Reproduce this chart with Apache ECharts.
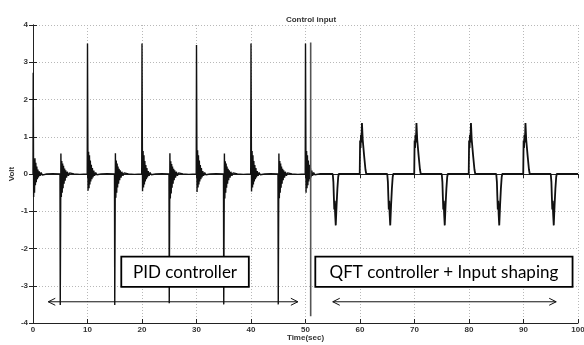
<!DOCTYPE html>
<html>
<head>
<meta charset="utf-8">
<script src="https://cdn.jsdelivr.net/npm/echarts@6/dist/echarts.min.js"></script>
<style>
html,body{margin:0;padding:0;background:#fff;}
#chart{width:584px;height:345px;}
</style>
</head>
<body>
<div id="chart"></div>
<script>
// Chart values
var chartTitle = 'Control input';
var xTicks = [0, 10, 20, 30, 40, 50, 60, 70, 80, 90, 100];
var yTicks = [-4, -3, -2, -1, 0, 1, 2, 3, 4];

// PID controller segment: [time (s), volt]
var pidSignal = [
  [0,0],[0.04,2.72],[0.12,-0.62],[0.2,0.38],[0.28,-0.5],[0.36,0.42],[0.44,-0.3],[0.52,0.3],[0.6,-0.22],[0.7,0.2],[0.8,-0.14],[0.9,0.12],[1.0,-0.09],[1.15,0.07],[1.3,-0.05],[1.5,0.04],[1.7,-0.03],[2.0,0.01],[2.5,0],[3.6,0.01],[4.95,0],
  [5.0,-3.52],[5.12,0.55],[5.2,-0.62],[5.28,0.35],[5.36,-0.5],[5.44,0.28],[5.52,-0.38],[5.6,0.22],[5.7,-0.26],[5.8,0.15],[5.9,-0.18],[6.0,0.1],[6.15,-0.1],[6.3,0.06],[6.5,-0.05],[6.7,0.03],[7.0,-0.01],[7.5,0],[8.6,-0.01],[9.95,0],
  [10.0,3.5],[10.1,-0.45],[10.2,0.6],[10.28,-0.38],[10.36,0.5],[10.44,-0.28],[10.52,0.36],[10.6,-0.2],[10.7,0.25],[10.8,-0.14],[10.9,0.16],[11.0,-0.09],[11.15,0.09],[11.3,-0.05],[11.5,0.04],[11.7,-0.02],[12.0,0.01],[12.5,0],[13.6,0.01],[14.95,0],
  [15.0,-3.52],[15.12,0.56],[15.2,-0.64],[15.28,0.36],[15.36,-0.5],[15.44,0.28],[15.52,-0.36],[15.6,0.2],[15.7,-0.26],[15.8,0.14],[15.9,-0.17],[16.0,0.1],[16.15,-0.1],[16.3,0.06],[16.5,-0.05],[16.7,0.03],[17.0,-0.01],[17.5,0],[18.6,-0.01],[19.95,0],
  [20.0,3.5],[20.1,-0.46],[20.2,0.62],[20.28,-0.36],[20.36,0.5],[20.44,-0.28],[20.52,0.35],[20.6,-0.2],[20.7,0.24],[20.8,-0.14],[20.9,0.16],[21.0,-0.09],[21.15,0.08],[21.3,-0.05],[21.5,0.04],[21.7,-0.02],[22.0,0.01],[22.5,0],[23.6,0.01],[24.95,0],
  [25.0,-3.47],[25.12,0.56],[25.2,-0.66],[25.28,0.34],[25.36,-0.52],[25.44,0.27],[25.52,-0.37],[25.6,0.2],[25.7,-0.26],[25.8,0.14],[25.9,-0.17],[26.0,0.1],[26.15,-0.1],[26.3,0.06],[26.5,-0.05],[26.7,0.03],[27.0,-0.01],[27.5,0],[28.6,-0.01],[29.95,0],
  [30.0,3.46],[30.1,-0.48],[30.2,0.64],[30.28,-0.36],[30.36,0.5],[30.44,-0.28],[30.52,0.36],[30.6,-0.2],[30.7,0.24],[30.8,-0.14],[30.9,0.16],[31.0,-0.09],[31.15,0.08],[31.3,-0.05],[31.5,0.04],[31.7,-0.02],[32.0,0.01],[32.5,0],[33.6,0.01],[34.95,0],
  [35.0,-3.5],[35.12,0.55],[35.2,-0.66],[35.28,0.34],[35.36,-0.5],[35.44,0.28],[35.52,-0.37],[35.6,0.2],[35.7,-0.26],[35.8,0.14],[35.9,-0.17],[36.0,0.1],[36.15,-0.1],[36.3,0.06],[36.5,-0.05],[36.7,0.03],[37.0,-0.01],[37.5,0],[38.6,-0.01],[39.95,0],
  [40.0,3.5],[40.1,-0.47],[40.2,0.62],[40.28,-0.36],[40.36,0.5],[40.44,-0.28],[40.52,0.35],[40.6,-0.2],[40.7,0.24],[40.8,-0.14],[40.9,0.16],[41.0,-0.09],[41.15,0.08],[41.3,-0.05],[41.5,0.04],[41.7,-0.02],[42.0,0.01],[42.5,0],[43.6,0.01],[44.95,0],
  [45.0,-3.5],[45.12,0.55],[45.2,-0.65],[45.28,0.35],[45.36,-0.5],[45.44,0.28],[45.52,-0.37],[45.6,0.2],[45.7,-0.26],[45.8,0.14],[45.9,-0.17],[46.0,0.1],[46.15,-0.1],[46.3,0.06],[46.5,-0.05],[46.7,0.03],[47.0,-0.01],[47.5,0],[48.6,-0.01],[49.95,0],
  [50.0,3.5],[50.1,-0.5],[50.2,0.62],[50.28,-0.38],[50.36,0.5],[50.44,-0.3],[50.52,0.36],[50.6,-0.2],[50.7,0.25],[50.8,-0.14],[50.9,0.16],[51.0,-0.09],[51.15,0.09],[51.3,-0.05],[51.5,0.04],[51.7,-0.02],[52.0,0.01],[52.5,0]
];

// QFT controller + input shaping segment: [time (s), volt]
var qftSignal = [
  [52.5,0],[55.0,0],[55.12,-0.22],[55.2,-0.6],[55.28,-0.95],[55.36,-0.72],[55.44,-1.08],[55.55,-1.38],[55.7,-0.85],[55.85,-0.4],[56.0,-0.08],[56.1,0],
  [59.95,0],[60.02,0.9],[60.1,0.7],[60.18,1.05],[60.26,0.85],[60.36,1.37],[60.5,0.92],[60.75,0.5],[61.0,0.12],[61.15,0],
  [65.0,0],[65.12,-0.22],[65.2,-0.6],[65.28,-0.95],[65.36,-0.72],[65.44,-1.08],[65.55,-1.38],[65.7,-0.85],[65.85,-0.4],[66.0,-0.08],[66.1,0],
  [69.95,0],[70.02,0.9],[70.1,0.7],[70.18,1.05],[70.26,0.85],[70.36,1.37],[70.5,0.92],[70.75,0.5],[71.0,0.12],[71.15,0],
  [75.0,0],[75.12,-0.22],[75.2,-0.6],[75.28,-0.95],[75.36,-0.72],[75.44,-1.08],[75.55,-1.38],[75.7,-0.85],[75.85,-0.4],[76.0,-0.08],[76.1,0],
  [79.95,0],[80.02,0.9],[80.1,0.7],[80.18,1.05],[80.26,0.85],[80.36,1.37],[80.5,0.92],[80.75,0.5],[81.0,0.12],[81.15,0],
  [85.0,0],[85.12,-0.22],[85.2,-0.6],[85.28,-0.95],[85.36,-0.72],[85.44,-1.08],[85.55,-1.38],[85.7,-0.85],[85.85,-0.4],[86.0,-0.08],[86.1,0],
  [89.95,0],[90.02,0.9],[90.1,0.7],[90.18,1.05],[90.26,0.85],[90.36,1.37],[90.5,0.92],[90.75,0.5],[91.0,0.12],[91.15,0],
  [95.0,0],[95.12,-0.22],[95.2,-0.6],[95.28,-0.95],[95.36,-0.72],[95.44,-1.08],[95.55,-1.38],[95.7,-0.85],[95.85,-0.4],[96.0,-0.08],[96.1,0],
  [100,0]
];

// Annotations (data coordinates)
var pidLabel = 'PID controller';
var qftLabel = 'QFT controller + Input shaping';
var pidBox = [16.2, -2.22, 39.6, -3.03];     // [x0, y0, x1, y1]
var qftBox = [51.8, -2.22, 99.0, -3.03];
var pidArrow = [2.8, 48.6, -3.43];           // [x0, x1, y]
var qftArrow = [55.0, 96.0, -3.43];
var separator = [50.95, 3.53, -3.82];        // [x, yTop, yBottom]

var chart = echarts.init(document.getElementById('chart'), null, {renderer: 'canvas'});

var labelFont = {fontSize: 8, color: '#333', fontWeight: 'bold', fontFamily: 'Liberation Sans, Arial, sans-serif'};
var splitStyle = {show: true, lineStyle: {color: '#b8b8b8', type: [1, 2], width: 1}};
var lineAxis = {show: true, lineStyle: {color: '#222', width: 1}};
var tickIn = {show: true, inside: true, length: 4, lineStyle: {color: '#222'}};

var option = {
  animation: false,
  backgroundColor: '#fff',
  title: {
    text: chartTitle, left: 306, top: 11, textAlign: 'center',
    textStyle: {fontSize: 8, fontWeight: 'bold', color: '#333', fontFamily: 'Liberation Sans, Arial, sans-serif'}
  },
  grid: {left: 33, right: 6, top: 25, bottom: 22, containLabel: false, outerBoundsMode: 'none'},
  xAxis: [{
    type: 'value', min: xTicks[0], max: xTicks[xTicks.length - 1], interval: 10,
    position: 'bottom',
    name: 'Time(sec)', nameLocation: 'middle', nameGap: 11, nameMoveOverlap: false,
    nameTextStyle: labelFont,
    axisLine: Object.assign({onZero: false}, lineAxis), axisTick: tickIn,
    axisLabel: Object.assign({margin: 3}, labelFont),
    splitLine: splitStyle
  }, {
    type: 'value', min: xTicks[0], max: xTicks[xTicks.length - 1], interval: 10,
    position: 'top',
    axisLine: lineAxis, axisTick: tickIn, axisLabel: {show: false}, splitLine: {show: false}
  }],
  yAxis: [{
    type: 'value', min: yTicks[0], max: yTicks[yTicks.length - 1], interval: 1,
    position: 'left',
    name: 'Volt', nameLocation: 'middle', nameGap: 17, nameRotate: 90, nameMoveOverlap: false,
    nameTextStyle: labelFont,
    axisLine: Object.assign({onZero: false}, lineAxis), axisTick: tickIn,
    axisLabel: Object.assign({margin: 5}, labelFont),
    splitLine: splitStyle
  }, {
    type: 'value', min: yTicks[0], max: yTicks[yTicks.length - 1], interval: 1,
    position: 'right',
    axisLine: lineAxis, axisTick: tickIn, axisLabel: {show: false}, splitLine: {show: false}
  }],
  series: [{
    type: 'line', name: 'PID', data: pidSignal, showSymbol: false, symbol: 'none',
    lineStyle: {color: '#111', width: 1.4}, z: 3
  }, {
    type: 'line', name: 'QFT', data: qftSignal, showSymbol: false, symbol: 'none',
    lineStyle: {color: '#111', width: 1.8}, z: 3
  }]
};
chart.setOption(option);

function px(p) { return chart.convertToPixel({gridIndex: 0}, p); }

function boxGraphics(box, label) {
  var a = px([box[0], box[1]]), b = px([box[2], box[3]]);
  return [{
    type: 'rect', z: 100,
    shape: {x: a[0], y: a[1], width: b[0] - a[0], height: b[1] - a[1]},
    style: {fill: '#fff', stroke: '#000', lineWidth: 1.8}
  }, {
    type: 'text', z: 101,
    x: (a[0] + b[0]) / 2, y: (a[1] + b[1]) / 2 + 1,
    style: {text: label, fill: '#000', font: '17px Lato, "Open Sans", sans-serif', align: 'center', verticalAlign: 'middle'}
  }];
}

function arrowGraphics(arr) {
  var a = px([arr[0], arr[2]]), b = px([arr[1], arr[2]]);
  var s = {stroke: '#111', lineWidth: 1, fill: null};
  return [{
    type: 'line', z: 100, shape: {x1: a[0], y1: a[1], x2: b[0], y2: b[1]}, style: s
  }, {
    type: 'polyline', z: 100, shape: {points: [[a[0] + 7, a[1] - 3.5], [a[0], a[1]], [a[0] + 7, a[1] + 3.5]]}, style: s
  }, {
    type: 'polyline', z: 100, shape: {points: [[b[0] - 7, b[1] - 3.5], [b[0], b[1]], [b[0] - 7, b[1] + 3.5]]}, style: s
  }];
}

var sTop = px([separator[0], separator[1]]), sBot = px([separator[0], separator[2]]);
var graphics = [].concat(
  boxGraphics(pidBox, pidLabel),
  boxGraphics(qftBox, qftLabel),
  arrowGraphics(pidArrow),
  arrowGraphics(qftArrow),
  [{type: 'line', z: 100, shape: {x1: sTop[0], y1: sTop[1], x2: sBot[0], y2: sBot[1]}, style: {stroke: '#555', lineWidth: 1.6}}]
);
chart.setOption({graphic: graphics});
</script>
</body>
</html>
